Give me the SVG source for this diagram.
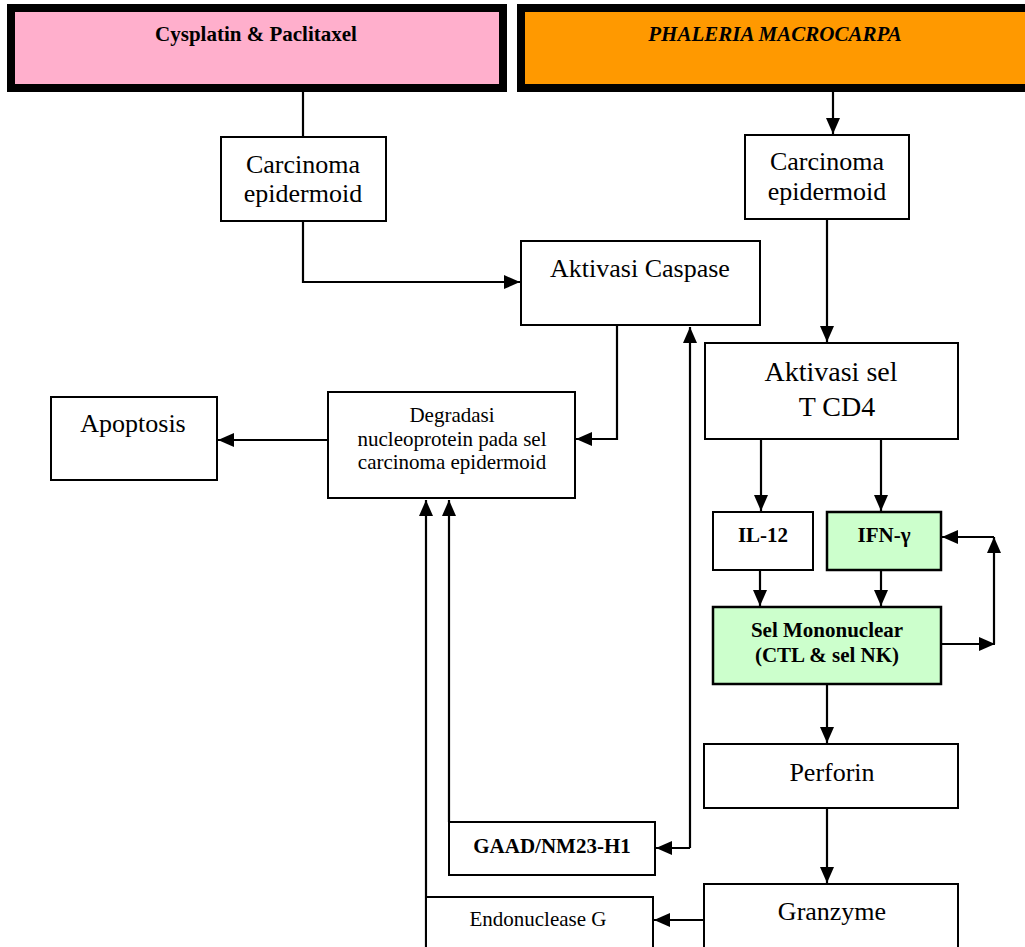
<svg xmlns="http://www.w3.org/2000/svg" width="1025" height="947" viewBox="0 0 1025 947">
<style>
.box{fill:#fff;stroke:#000;stroke-width:2}
.grn{fill:#ccffcc;stroke:#000;stroke-width:2.5}
.t{font-family:"Liberation Serif","Times New Roman",serif;fill:#000;text-anchor:middle}
.big{font-size:26px}
.sm{font-size:21px}
.b{font-weight:bold;font-size:21px}
.c{fill:none;stroke:#000;stroke-width:2.2}
</style>
<defs>
<marker id="ah" viewBox="0 0 16 14" refX="16" refY="7" markerWidth="16" markerHeight="14" markerUnits="userSpaceOnUse" orient="auto">
<path d="M0,0 L16,7 L0,14 z" fill="#000"/>
</marker>
</defs>
<rect width="1025" height="947" fill="#fff"/>
<g id="connectors">
<path class="c" d="M303,92 V137"/>
<path class="c" d="M303,221 V282 H520" marker-end="url(#ah)"/>
<path class="c" d="M833,92 V134" marker-end="url(#ah)"/>
<path class="c" d="M827,219 V342" marker-end="url(#ah)"/>
<path class="c" d="M617,325 V439 H576" marker-end="url(#ah)"/>
<path class="c" d="M328,440 H218" marker-end="url(#ah)"/>
<path class="c" d="M761,439 V511" marker-end="url(#ah)"/>
<path class="c" d="M881,439 V511" marker-end="url(#ah)"/>
<path class="c" d="M760,570 V606" marker-end="url(#ah)"/>
<path class="c" d="M881,570 V606" marker-end="url(#ah)"/>
<path class="c" d="M941,644 H995" marker-end="url(#ah)"/>
<path class="c" d="M994,644 V537" marker-end="url(#ah)"/>
<path class="c" d="M994,537 H942" marker-end="url(#ah)"/>
<path class="c" d="M827,684 V743" marker-end="url(#ah)"/>
<path class="c" d="M827,808 V883" marker-end="url(#ah)"/>
<path class="c" d="M704,920 H654" marker-end="url(#ah)"/>
<path class="c" d="M690,848 V327" marker-end="url(#ah)"/>
<path class="c" d="M690,848 H656" marker-end="url(#ah)"/>
<path class="c" d="M426,947 V500" marker-end="url(#ah)"/>
<path class="c" d="M449,822 V500" marker-end="url(#ah)"/>
</g>
<g id="cysplatin">
<rect x="11" y="8" width="492" height="80" fill="#ffafcc" stroke="#000" stroke-width="8"/>
<text class="t b" x="256" y="41">Cysplatin &amp; Paclitaxel</text>
</g>
<g id="phaleria">
<rect x="521" y="8" width="520" height="80" fill="#ff9900" stroke="#000" stroke-width="8"/>
<text class="t b" x="775" y="41" font-style="italic">PHALERIA MACROCARPA</text>
</g>
<g id="carcL">
<rect class="box" x="221" y="137" width="165" height="84"/>
<text class="t big" x="303" y="173">Carcinoma</text>
<text class="t big" x="303" y="202">epidermoid</text>
</g>
<g id="carcR">
<rect class="box" x="745" y="135" width="164" height="84"/>
<text class="t big" x="827" y="170">Carcinoma</text>
<text class="t big" x="827" y="200">epidermoid</text>
</g>
<g id="caspase">
<rect class="box" x="521" y="241" width="239" height="84"/>
<text class="t big" x="640" y="277">Aktivasi Caspase</text>
</g>
<g id="degradasi">
<rect class="box" x="328" y="392" width="247" height="106"/>
<text class="t sm" x="452" y="422">Degradasi</text>
<text class="t sm" x="452" y="446">nucleoprotein pada sel</text>
<text class="t sm" x="452" y="469">carcinoma epidermoid</text>
</g>
<g id="apoptosis">
<rect class="box" x="51" y="397" width="166" height="83"/>
<text class="t big" x="133" y="432">Apoptosis</text>
</g>
<g id="aktivasiSel">
<rect class="box" x="705" y="343" width="253" height="96"/>
<text class="t" font-size="28" x="831" y="381">Aktivasi sel</text>
<text class="t" font-size="28" x="837" y="416">T CD4</text>
</g>
<g id="il12">
<rect class="box" x="713" y="512" width="100" height="58"/>
<text class="t b" x="763" y="542">IL-12</text>
</g>
<g id="ifn">
<rect class="grn" x="827" y="512" width="114" height="58"/>
<text class="t b" x="884" y="542">IFN-γ</text>
</g>
<g id="mononuclear">
<rect class="grn" x="713" y="607" width="228" height="77"/>
<text class="t b" x="827" y="637">Sel Mononuclear</text>
<text class="t b" x="827" y="662">(CTL &amp; sel NK)</text>
</g>
<g id="perforin">
<rect class="box" x="704" y="744" width="254" height="64"/>
<text class="t big" x="832" y="781">Perforin</text>
</g>
<g id="granzyme">
<rect class="box" x="704" y="884" width="254" height="80"/>
<text class="t big" x="832" y="920">Granzyme</text>
</g>
<g id="gaad">
<rect class="box" x="449" y="822" width="206" height="53"/>
<text class="t b" x="552" y="853">GAAD/NM23-H1</text>
</g>
<g id="endonuclease">
<rect class="box" x="426" y="897" width="227" height="70"/>
<text class="t sm" x="538" y="926">Endonuclease G</text>
</g>
</svg>
